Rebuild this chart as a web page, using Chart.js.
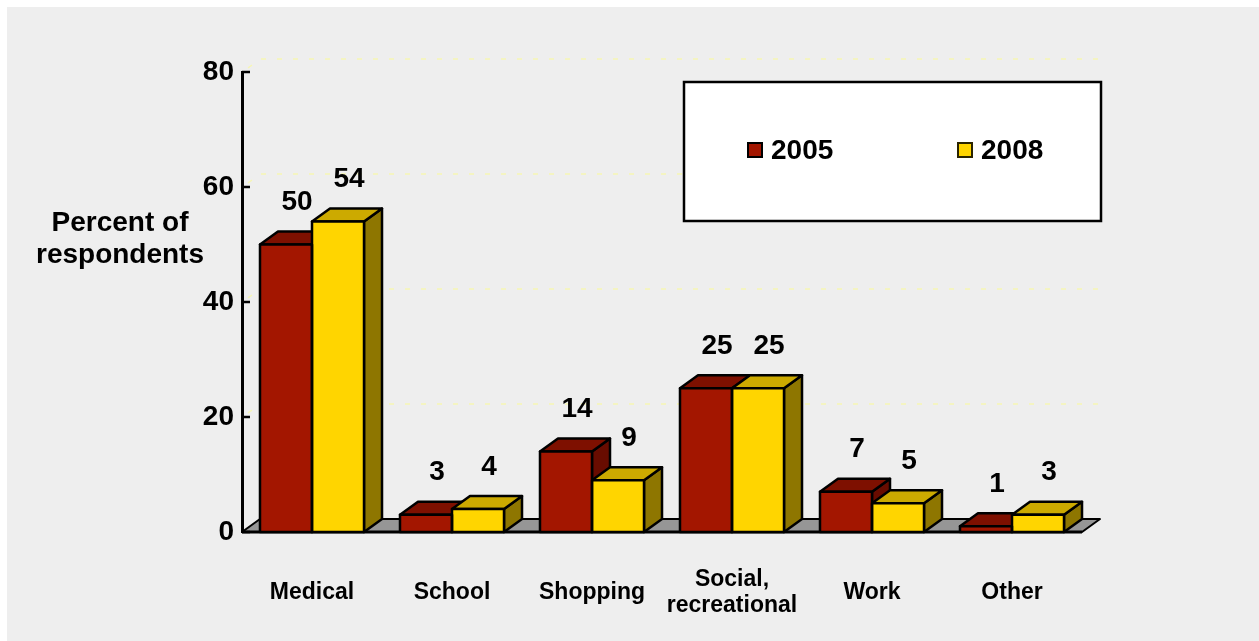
<!DOCTYPE html>
<html>
<head>
<meta charset="utf-8">
<script src="https://cdn.jsdelivr.net/npm/chart.js@4.4.1/dist/chart.umd.min.js"></script>
<style>
  html, body { margin: 0; padding: 0; background: #fff; }
  #wrap { width: 1259px; height: 641px; position: relative; }
</style>
</head>
<body>
<div id="wrap"><canvas id="chart"></canvas></div>
<script>
// Trip purposes and share of respondents per survey year
const categories = ['Medical', 'School', 'Shopping', ['Social,', 'recreational'], 'Work', 'Other'];
const seriesNames = ['2005', '2008'];
const values2005 = [50, 3, 14, 25, 7, 1];
const values2008 = [54, 4, 9, 25, 5, 3];
const yTicks = [0, 20, 40, 60, 80];
const axisTitle = ['Percent of', 'respondents'];

// Styling
const FONT = "'Liberation Sans', Arial, Helvetica, sans-serif";
const DEPTH_X = 18, DEPTH_Y = -13;          // 3-D extrusion of boxes and floor
const faces = [
  { front: '#A31600', top: '#7E1000', side: '#680C00' },
  { front: '#FFD500', top: '#CCAA00', side: '#8E7600' }
];
const OUTLINE = 2.5;

function boxGeom(bar) {
  const left = bar.x - bar.width / 2, right = bar.x + bar.width / 2;
  return { left, right, top: Math.min(bar.y, bar.base), bottom: Math.max(bar.y, bar.base) };
}

function poly(ctx, pts, fill) {
  ctx.beginPath();
  ctx.moveTo(pts[0][0], pts[0][1]);
  for (let i = 1; i < pts.length; i++) ctx.lineTo(pts[i][0], pts[i][1]);
  ctx.closePath();
  ctx.fillStyle = fill;
  ctx.fill();
  ctx.stroke();
}

// Page backdrop: thin white margin, light grey panel
const backdrop = {
  id: 'backdrop',
  beforeDraw(chart) {
    const ctx = chart.ctx;
    ctx.save();
    ctx.fillStyle = '#ffffff';
    ctx.fillRect(0, 0, chart.width, chart.height);
    ctx.fillStyle = '#eeeeee';
    ctx.fillRect(7, 7, chart.width - 7, chart.height - 7);
    ctx.restore();
  }
};

// Back-wall gridlines, floor, and the top/side faces of every box
const depthFaces = {
  id: 'depthFaces',
  beforeDatasetsDraw(chart) {
    const { ctx, chartArea: a, scales: { y } } = chart;
    ctx.save();

    ctx.strokeStyle = '#f6f6b4';
    ctx.lineWidth = 1.5;
    ctx.setLineDash([5, 11]);
    y.ticks.forEach(t => {
      if (t.value === 0) return;
      const py = y.getPixelForValue(t.value);
      ctx.beginPath();
      ctx.moveTo(a.left + 6, py - 4);
      ctx.lineTo(a.left + DEPTH_X, py + DEPTH_Y);
      ctx.lineTo(a.right + DEPTH_X, py + DEPTH_Y);
      ctx.stroke();
    });
    ctx.setLineDash([]);

    const y0 = y.getPixelForValue(0);
    ctx.strokeStyle = '#000';
    ctx.lineJoin = 'round';
    ctx.lineWidth = 2;
    poly(ctx, [[a.left, y0], [a.right, y0], [a.right + DEPTH_X, y0 + DEPTH_Y], [a.left + DEPTH_X, y0 + DEPTH_Y]], '#969696');
    ctx.lineWidth = 3;
    ctx.beginPath();
    ctx.moveTo(a.left, y0);
    ctx.lineTo(a.right, y0);
    ctx.stroke();

    ctx.lineWidth = 2.5;
    y.ticks.forEach(t => {
      const py = y.getPixelForValue(t.value);
      ctx.beginPath();
      ctx.moveTo(a.left, py);
      ctx.lineTo(a.left + 8, py);
      ctx.stroke();
    });

    ctx.lineWidth = OUTLINE;
    chart.data.datasets.forEach((ds, di) => {
      const meta = chart.getDatasetMeta(di);
      meta.data.forEach(bar => {
        const g = boxGeom(bar);
        poly(ctx, [[g.right, g.top], [g.right + DEPTH_X, g.top + DEPTH_Y],
                   [g.right + DEPTH_X, g.bottom + DEPTH_Y], [g.right, g.bottom]], faces[di].side);
        poly(ctx, [[g.left, g.top], [g.right, g.top],
                   [g.right + DEPTH_X, g.top + DEPTH_Y], [g.left + DEPTH_X, g.top + DEPTH_Y]], faces[di].top);
      });
    });
    ctx.restore();
  },
  afterDatasetsDraw(chart) {
    const ctx = chart.ctx;
    ctx.save();
    ctx.strokeStyle = '#000';
    ctx.lineWidth = OUTLINE;
    ctx.lineJoin = 'round';
    chart.data.datasets.forEach((ds, di) => {
      chart.getDatasetMeta(di).data.forEach(bar => {
        const g = boxGeom(bar);
        ctx.strokeRect(g.left, g.top, g.right - g.left, g.bottom - g.top);
      });
    });
    // value labels above each box
    ctx.fillStyle = '#000';
    ctx.font = 'bold 28px ' + FONT;
    ctx.textAlign = 'center';
    ctx.textBaseline = 'middle';
    chart.data.datasets.forEach((ds, di) => {
      chart.getDatasetMeta(di).data.forEach((bar, i) => {
        ctx.fillText(String(ds.data[i]), bar.x + 11, bar.y - 42);
      });
    });
    ctx.restore();
  }
};

// Boxed legend inside the plot and the horizontal axis title
const annotations = {
  id: 'annotations',
  afterDraw(chart) {
    const { ctx, chartArea: a } = chart;
    ctx.save();
    ctx.fillStyle = '#ffffff';
    ctx.fillRect(684, 82, 417, 139);
    ctx.strokeStyle = '#000';
    ctx.lineWidth = 2.5;
    ctx.strokeRect(684, 82, 417, 139);

    const itemX = [748, 958];
    ctx.font = 'bold 28px ' + FONT;
    ctx.textAlign = 'left';
    ctx.textBaseline = 'middle';
    chart.data.datasets.forEach((ds, di) => {
      ctx.fillStyle = ds.backgroundColor;
      ctx.fillRect(itemX[di], 143, 14, 14);
      ctx.lineWidth = 2;
      ctx.strokeStyle = di === 0 ? '#000' : '#2a2400';
      ctx.strokeRect(itemX[di], 143, 14, 14);
      ctx.fillStyle = '#000';
      ctx.fillText(ds.label, itemX[di] + 23, 151);
    });

    ctx.textAlign = 'center';
    ctx.font = 'bold 28px ' + FONT;
    axisTitle.forEach((line, i) => ctx.fillText(line, a.left - 122, 223 + i * 32));
    ctx.restore();
  }
};

new Chart(document.getElementById('chart'), {
  type: 'bar',
  data: {
    labels: categories,
    datasets: [
      { label: seriesNames[0], data: values2005, backgroundColor: faces[0].front, borderWidth: 0 },
      { label: seriesNames[1], data: values2008, backgroundColor: faces[1].front, borderWidth: 0 }
    ]
  },
  options: {
    responsive: true,
    maintainAspectRatio: false,
    animation: false,
    events: [],
    layout: { padding: { top: 72, right: 177, bottom: 0, left: 0 } },
    datasets: { bar: { categoryPercentage: 0.743, barPercentage: 1.0 } },
    plugins: { legend: { display: false }, tooltip: { enabled: false } },
    scales: {
      x: {
        grid: { display: false, drawTicks: false },
        border: { display: false },
        ticks: {
          color: '#000',
          font: { family: FONT, size: 23, weight: 'bold', lineHeight: 1.13 },
          padding: 48,
          maxRotation: 0,
          autoSkip: false,
          crossAlign: 'center'
        },
        afterFit(scale) { scale.height = 109; }
      },
      y: {
        z: 1,
        min: 0,
        max: 80,
        afterBuildTicks(scale) { scale.ticks = yTicks.map(v => ({ value: v })); },
        grid: { display: false, drawTicks: false },
        border: { display: true, color: '#000', width: 3 },
        ticks: {
          color: '#000',
          font: { family: FONT, size: 28, weight: 'bold' },
          padding: 8
        },
        afterFit(scale) { scale.width = 242; }
      }
    }
  },
  plugins: [backdrop, depthFaces, annotations]
});
</script>
</body>
</html>
